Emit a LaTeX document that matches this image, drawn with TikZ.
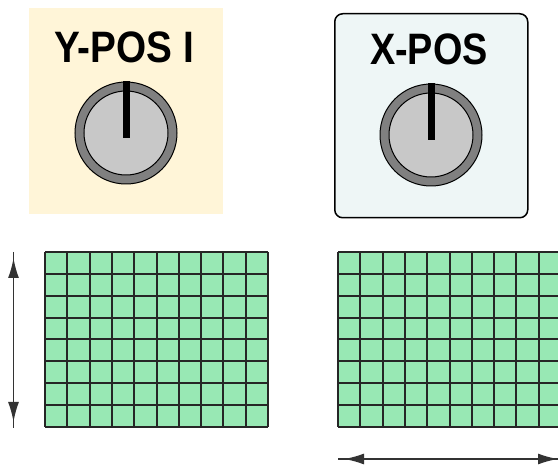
\documentclass[tikz,border=0pt]{standalone}
\usepackage{fontspec}
\setmainfont{Liberation Sans}
\usetikzlibrary{positioning,arrows.meta}
\definecolor{panelyellow}{RGB}{255,245,216}
\definecolor{panelblue}{RGB}{238,246,246}
\definecolor{screengreen}{RGB}{152,232,180}
\definecolor{knobring}{RGB}{128,128,128}
\definecolor{knobface}{RGB}{200,200,200}

\begin{document}
\begin{tikzpicture}[x=1pt, y=-1pt, every node/.style={inner sep=0pt}]
    \useasboundingbox (0,0) rectangle (558,468);
    \clip (0,0) rectangle (558,468);

    % Control panels with their labels
    \node[fill=panelyellow, minimum width=194pt, minimum height=206pt, anchor=north west] (ypanel) at (29,8) {};
    \node[fill=panelblue, draw, line width=1.5pt, rounded corners=8pt, minimum width=193pt, minimum height=204pt, anchor=north west] (xpanel) at (334,13) {};
    \node[font=\bfseries\fontsize{44}{44}\selectfont, xscale=0.88, anchor=base] (ylabel) at (124,63) {Y-POS I};
    \node[font=\bfseries\fontsize{44}{44}\selectfont, xscale=0.86, anchor=base] (xlabel) at (429,65) {X-POS};

    % Knobs
    \foreach \name/\cx/\cy in {yknob/126/133, xknob/431/135} {
        \node[circle, draw, line width=1pt, fill=knobring, minimum size=102pt] (\name) at (\cx,\cy) {};
        \node[circle, draw, line width=1pt, fill=knobface, minimum size=84pt] (\name face) at (\name.center) {};
        \draw[line width=7pt] (\name.north) -- ([yshift=-5pt]\name.center);
    }

    % Screens
    \foreach \gx/\gname in {45/yscreen, 338/xscreen} {
        \node[fill=screengreen, minimum width=223pt, minimum height=175pt, anchor=north west] (\gname) at (\gx,252) {};
        \foreach \i in {0,...,10}
            \draw[line width=2pt, black!85] (\gx+\i*22.3, 252) -- (\gx+\i*22.3, 427);
        \foreach \j in {0,...,8}
            \draw[line width=2pt, black!85] (\gx, 252+\j*21.875) -- (\gx+223, 252+\j*21.875);
    }

    % Movement arrows
    \coordinate (ytop) at (13.5,252);
    \coordinate (ybot) at (13.5,428);
    \coordinate (xleft) at (338,459);
    \coordinate (xright) at (564,459);
    \draw[line width=1.8pt, black!80] (ytop) -- (ybot);
    \draw[line width=1.8pt, black!80, {Latex[length=20pt,width=11pt]}-{Latex[length=20pt,width=11pt]}, shorten <=6pt, shorten >=6pt] (ytop) -- (ybot);
    \draw[line width=1.8pt, black!80] (xleft) -- (xright);
    \draw[line width=1.8pt, black!80, {Latex[length=20pt,width=11pt]}-{Latex[length=20pt,width=11pt]}, shorten <=6pt, shorten >=6pt] (xleft) -- (xright);
\end{tikzpicture}
\end{document}
